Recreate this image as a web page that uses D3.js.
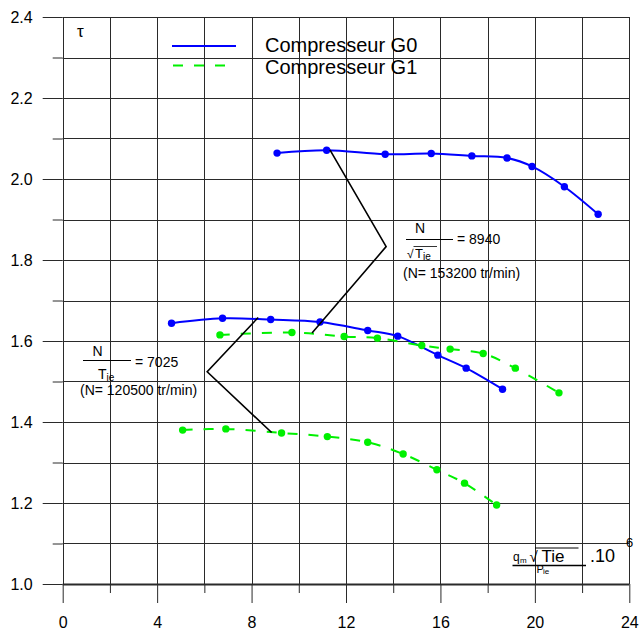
<!DOCTYPE html>
<html>
<head>
<meta charset="utf-8">
<script src="https://cdn.jsdelivr.net/npm/d3@7"></script>
<style>
  html, body { margin: 0; padding: 0; background: #fff; }
  svg { display: block; font-family: "Liberation Sans", Arial, sans-serif; }
</style>
</head>
<body>
<svg id="chart" width="639" height="631"></svg>
<script>
// Compressor map: pressure ratio tau vs corrected mass flow (x 10^6)
const xTicksMajor = [0, 4, 8, 12, 16, 20, 24];
const xTicksMinor = [2, 6, 10, 14, 18, 22];
const yTicksMajor = [1.0, 1.2, 1.4, 1.6, 1.8, 2.0, 2.2, 2.4];
const yTicksMinor = [1.1, 1.3, 1.5, 1.7, 1.9, 2.1, 2.3];

// Compressor G0, speed line N/sqrt(Tie) = 8940
const g0High = [[9.08, 2.064], [11.18, 2.071], [13.66, 2.061], [15.61, 2.063], [17.33, 2.057],
                [18.82, 2.052], [19.88, 2.031], [21.25, 1.981], [22.68, 1.913]];
// Compressor G0, speed line N/Tie = 7025
const g0Low = [[4.61, 1.644], [6.77, 1.656], [8.81, 1.653], [10.90, 1.647], [12.92, 1.626],
               [14.19, 1.612], [15.89, 1.565], [17.09, 1.533], [18.63, 1.481]];
// Compressor G1, speed line 8940
const g1High = [[6.66, 1.615], [9.71, 1.621], [11.92, 1.611], [13.33, 1.607], [15.21, 1.589],
                [16.41, 1.580], [17.81, 1.569], [19.17, 1.533], [21.02, 1.472]];
// Compressor G1, speed line 7025
const g1Low = [[5.08, 1.380], [6.91, 1.383], [9.27, 1.373], [11.21, 1.364], [12.92, 1.350],
               [14.42, 1.321], [15.85, 1.282], [17.02, 1.249], [18.38, 1.195]];

// Leader lines tying each speed-line label to its pair of curves
const leader8940 = [[11.32, 2.072], [13.70, 1.833], [10.56, 1.620]];
const leader7025 = [[8.28, 1.658], [6.12, 1.524], [8.85, 1.374]];

const svg = d3.select("#chart");
const x = d3.scaleLinear().domain([0, 24]).range([62.7, 629.3]);
const y = d3.scaleLinear().domain([1.0, 2.4]).range([584, 17]);

const gridColor = "#2a2a2a";

// horizontal grid every 0.1
const hLines = d3.range(10, 25).map(v => v / 10);
svg.append("g").selectAll("line").data(hLines).join("line")
  .attr("x1", x(0)).attr("x2", x(24))
  .attr("y1", d => Math.round(y(d)) + 0.5).attr("y2", d => Math.round(y(d)) + 0.5)
  .attr("stroke", gridColor).attr("stroke-width", d => d === 1.0 ? 2 : 1);

// vertical grid every 2
const vLines = d3.range(0, 25, 2);
svg.append("g").selectAll("line").data(vLines).join("line")
  .attr("x1", d => Math.round(x(d)) + 0.5).attr("x2", d => Math.round(x(d)) + 0.5)
  .attr("y1", y(2.4)).attr("y2", y(1.0))
  .attr("stroke", gridColor).attr("stroke-width", 1);

// axes
function styleAxis(g) {
  g.select(".domain").remove();
  g.selectAll(".tick line").attr("stroke", gridColor).attr("stroke-width", 1);
  g.selectAll(".tick text").attr("fill", "#000").attr("font-size", 16)
    .attr("font-family", "Liberation Sans, Arial, sans-serif");
}
svg.append("g").attr("transform", `translate(0,${y(1.0)})`)
  .call(d3.axisBottom(x).tickValues(xTicksMajor).tickSize(19).tickPadding(14).tickFormat(d3.format("d")))
  .call(styleAxis);
svg.append("g").attr("transform", `translate(0,${y(1.0)})`)
  .call(d3.axisBottom(x).tickValues(xTicksMinor).tickSize(9).tickFormat(""))
  .call(styleAxis);
svg.append("g").attr("transform", `translate(${x(0)},0)`)
  .call(d3.axisLeft(y).tickValues(yTicksMajor).tickSize(20).tickPadding(10).tickFormat(d3.format(".1f")))
  .call(styleAxis);
svg.append("g").attr("transform", `translate(${x(0)},0)`)
  .call(d3.axisLeft(y).tickValues(yTicksMinor).tickSize(10).tickFormat(""))
  .call(styleAxis);

// curves
const line = d3.line().x(d => x(d[0])).y(d => y(d[1])).curve(d3.curveCatmullRom.alpha(0.5));
const series = [
  { data: g0High, color: "#0000ff", dash: null },
  { data: g0Low, color: "#0000ff", dash: null },
  { data: g1High, color: "#00f000", dash: "10,11" },
  { data: g1Low, color: "#00f000", dash: "10,11" }
];
series.forEach(s => {
  svg.append("path").datum(s.data).attr("d", line)
    .attr("fill", "none").attr("stroke", s.color).attr("stroke-width", 2)
    .attr("stroke-dasharray", s.dash);
  svg.append("g").selectAll("circle").data(s.data).join("circle")
    .attr("cx", d => x(d[0])).attr("cy", d => y(d[1])).attr("r", 3.7)
    .attr("fill", s.color);
});

// leader lines
const straight = d3.line().x(d => x(d[0])).y(d => y(d[1]));
[leader8940, leader7025].forEach(pts => {
  svg.append("path").datum(pts).attr("d", straight)
    .attr("fill", "none").attr("stroke", "#000").attr("stroke-width", 1.6);
});

// legend
svg.append("line").attr("x1", 172).attr("x2", 236).attr("y1", 46).attr("y2", 46)
  .attr("stroke", "#0000ff").attr("stroke-width", 2);
svg.append("line").attr("x1", 173).attr("x2", 227).attr("y1", 65.5).attr("y2", 65.5)
  .attr("stroke", "#00f000").attr("stroke-width", 2).attr("stroke-dasharray", "10,11");
svg.append("text").attr("x", 265).attr("y", 52).attr("font-size", 20).text("Compresseur G0");
svg.append("text").attr("x", 265).attr("y", 73.5).attr("font-size", 20).text("Compresseur G1");

// y-axis symbol
svg.append("text").attr("x", 77).attr("y", 37).attr("font-size", 17).text("τ");

function txt(xp, yp, size, s, anchor) {
  return svg.append("text").attr("x", xp).attr("y", yp).attr("font-size", size)
    .attr("text-anchor", anchor || "start").text(s);
}
function hline(x1, x2, yp, w) {
  svg.append("line").attr("x1", x1).attr("x2", x2).attr("y1", yp).attr("y2", yp)
    .attr("stroke", "#000").attr("stroke-width", w || 1);
}

// label: N / sqrt(Tie) = 8940
txt(420, 233, 14, "N", "middle");
hline(406, 453, 239.5);
txt(457, 244, 14, "= 8940");
txt(407, 257.5, 12, "√");
hline(413.5, 437, 246.5, 0.8);
txt(415, 257.7, 13, "T");
txt(423, 260, 10, "ie");
txt(403, 278, 14, "(N= 153200 tr/min)");

// label: N / Tie = 7025
txt(97.5, 356, 14, "N", "middle");
hline(83, 131, 360.5);
txt(135, 366.5, 14, "= 7025");
txt(98, 378.5, 14, "T");
txt(106.5, 381, 10, "ie");
txt(80, 395, 14, "(N= 120500 tr/min)");

// x-axis title: qm sqrt(Tie) / Pie . 10^6
txt(513, 561, 12, "q");
txt(520, 563, 8, "m");
txt(529.5, 562, 15, "√");
hline(535, 578.5, 548, 1);
txt(541.5, 562, 17, "Tie");
hline(512.5, 586, 565.5, 1.3);
txt(536.5, 572.5, 11, "P");
txt(543, 574, 8, "ie");
txt(590, 562, 18, ".10");
txt(626, 547, 13, "6");
</script>
</body>
</html>
